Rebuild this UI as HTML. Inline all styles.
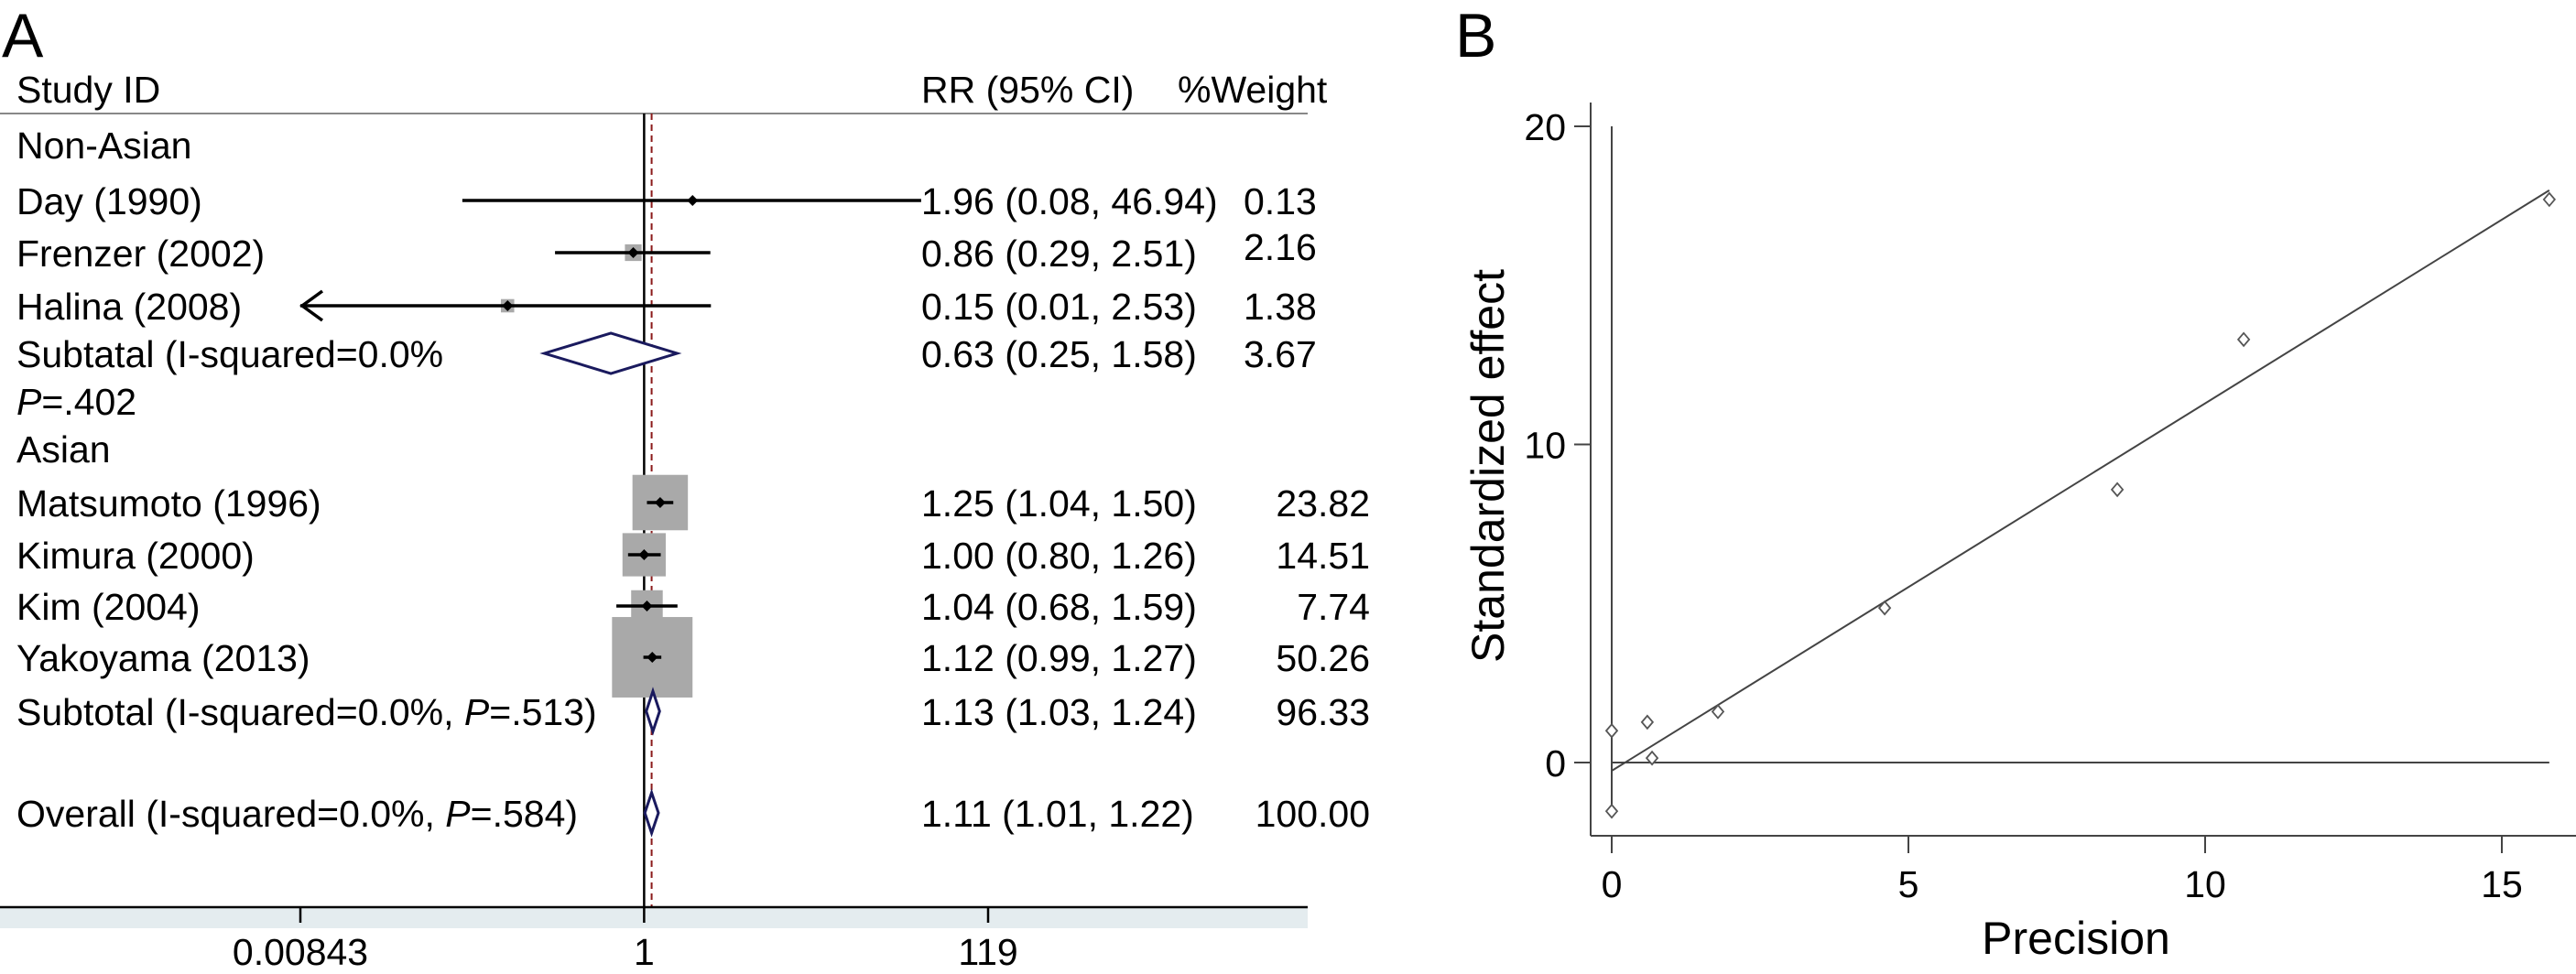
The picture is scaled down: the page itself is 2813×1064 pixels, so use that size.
<!DOCTYPE html>
<html><head><meta charset="utf-8"><style>
html,body{margin:0;padding:0;background:#fff;}
svg{display:block;font-family:"Liberation Sans",Arial,sans-serif;}
</style></head><body>
<svg id="fig" width="2813" height="1064" viewBox="0 0 2813 1064" xmlns="http://www.w3.org/2000/svg">
<g id="panelA">
<text x="2" y="62" font-size="68">A</text>
<text x="18" y="112" font-size="41">Study ID</text>
<text x="1006" y="112" font-size="41">RR (95% CI)</text>
<text x="1286" y="112" font-size="41">%Weight</text>
<line x1="0" y1="124" x2="1428" y2="124" stroke="#888" stroke-width="2"/>
<rect x="0" y="992" width="1428" height="22" fill="#e4ecef"/>
<g id="forestMarks"></g>
</g>
<g id="panelB">
<text x="1589" y="62" font-size="68">B</text>
<g id="galbMarks"></g>
<text x="2267" y="1042" font-size="50" text-anchor="middle">Precision</text>
<text transform="translate(1642,509) rotate(-90)" font-size="50" text-anchor="middle">Standardized effect</text>
</g>
</svg>
<script>
// ---- Panel A data ----
const rowLabels = ["Non-Asian","Day (1990)","Frenzer (2002)","Halina (2008)","Subtatal (I-squared=0.0%","P=.402","Asian","Matsumoto (1996)","Kimura (2000)","Kim (2004)","Yakoyama (2013)","Subtotal (I-squared=0.0%, P=.513)","Overall (I-squared=0.0%, P=.584)"];
const rowKinds = ["head","study","study","study","sub","note","head","study","study","study","study","sub","sub"];
const rr = [null,1.96,0.86,0.15,0.63,null,null,1.25,1.00,1.04,1.12,1.13,1.11];
const lo = [null,0.08,0.29,0.01,0.25,null,null,1.04,0.80,0.68,0.99,1.03,1.01];
const hi = [null,46.94,2.51,2.53,1.58,null,null,1.50,1.26,1.59,1.27,1.24,1.22];
const rrText = ["","1.96 (0.08, 46.94)","0.86 (0.29, 2.51)","0.15 (0.01, 2.53)","0.63 (0.25, 1.58)","","","1.25 (1.04, 1.50)","1.00 (0.80, 1.26)","1.04 (0.68, 1.59)","1.12 (0.99, 1.27)","1.13 (1.03, 1.24)","1.11 (1.01, 1.22)"];
const weights = [null,0.13,2.16,1.38,3.67,null,null,23.82,14.51,7.74,50.26,96.33,100.00];
const axisTicks = [0.00843,1,119];
const axisTickLabels = ["0.00843","1","119"];
const overallRR = 1.11;

// ---- Panel B data ----
const precision = [0,0,0.6,0.68,1.79,4.6,8.52,10.65,15.8];
const stdEffect = [1.0,-1.53,1.27,0.14,1.6,4.86,8.58,13.3,17.7];
const xTicks = [0,5,10,15];
const yTicks = [0,10,20];
const fitIntercept = -0.26;
const fitSlope = 1.155;
const fitRange = [0,15.8];

const NS="http://www.w3.org/2000/svg";
function mk(parent,tag,attrs,txt){const e=document.createElementNS(NS,tag);for(const k in attrs)e.setAttribute(k,attrs[k]);if(txt!=null)e.textContent=txt;parent.appendChild(e);return e;}

const rowYs=[158,219,276,334,386,438,490,549,606,662,718,777,888];
const xMin=Math.log(axisTicks[0]), xMax=Math.log(axisTicks[2]);
function fx(v){return 328+(Math.log(v)-xMin)/(xMax-xMin)*(1079-328);}
function clampX(v){return Math.max(328,Math.min(1079,fx(v)));}
const fm=document.getElementById('forestMarks');
const FS=41;

let l=mk(fm,'line',{x1:fx(1),y1:124,x2:fx(1),y2:991,stroke:'#000','stroke-width':2.5});


l=mk(fm,'line',{x1:fx(overallRR),y1:124,x2:fx(overallRR),y2:991,stroke:'#8b1a1a','stroke-width':2,'stroke-dasharray':'7,5'});


l=mk(fm,'line',{x1:0,y1:991,x2:1428,y2:991,stroke:'#000','stroke-width':2.5});


axisTicks.forEach((t,i)=>{
  const tk=mk(fm,'line',{x1:fx(t),y1:991,x2:fx(t),y2:1008,stroke:'#000','stroke-width':2.5});
  
  
  const tl=mk(fm,'text',{x:fx(t),y:1054,'font-size':FS,'text-anchor':'middle'},axisTickLabels[i]);
  
  
});

rowLabels.forEach((lab,i)=>{
  const y=rowYs[i];
  const by=y+15;
  let t;
  if(lab.startsWith('P=')){
    t=mk(fm,'text',{x:18,y:by,'font-size':FS});
    mk(t,'tspan',{'font-style':'italic'},'P');mk(t,'tspan',{},lab.slice(1));
  } else if(lab.indexOf(', P=')>0){
    const p=lab.indexOf(', P=');
    t=mk(fm,'text',{x:18,y:by,'font-size':FS});
    mk(t,'tspan',{},lab.slice(0,p+2));mk(t,'tspan',{'font-style':'italic'},'P');mk(t,'tspan',{},lab.slice(p+3));
  } else t=mk(fm,'text',{x:18,y:by,'font-size':FS},lab);
  
  
  if(rrText[i]){
    const r=mk(fm,'text',{x:1006,y:by,'font-size':FS},rrText[i]);
    
    
  }
  if(weights[i]!=null){
    const asian=i>=7;
    const w=mk(fm,'text',{x:asian?1496:1358,y:by-(i===2?7:0),'font-size':FS,'text-anchor':asian?'end':'start'},weights[i].toFixed(2));
    
    
  }
  if(rr[i]==null)return;
  if(rowKinds[i]==='study'){
    const s=12.4*Math.sqrt(weights[i]);
    const bx=mk(fm,'rect',{x:fx(rr[i])-s/2,y:y-s/2,width:s,height:s,fill:'#a9a9a9'});
    
    
    const trunc=fx(lo[i])<345;
    const x1=trunc?328:clampX(lo[i]),x2=clampX(hi[i]);
    const ci=mk(fm,'line',{x1:x1,y1:y,x2:x2,y2:y,stroke:'#000','stroke-width':3.5});
    
    
    if(trunc){
      const ar=mk(fm,'polyline',{points:`${x1+24},${y-16} ${x1+2},${y} ${x1+24},${y+16}`,fill:'none',stroke:'#000','stroke-width':3.5});
      
      
    }
    const px=fx(rr[i]);
    const pt=mk(fm,'polygon',{points:`${px-6},${y} ${px},${y-6} ${px+6},${y} ${px},${y+6}`,fill:'#000'});
    
    
  } else {
    const h=22;
    const d=mk(fm,'polygon',{points:`${fx(lo[i])},${y} ${fx(rr[i])},${y-h} ${fx(hi[i])},${y} ${fx(rr[i])},${y+h}`,fill:'#fff',stroke:'#1a1a5e','stroke-width':3});
    
    
  }
});

// Panel B
const gm=document.getElementById('galbMarks');
function gx(v){return 1760+v*64.8;}
function gy(v){return 833-v*34.75;}
l=mk(gm,'line',{x1:1737,y1:112,x2:1737,y2:913,stroke:'#444','stroke-width':2});


l=mk(gm,'line',{x1:1737,y1:913,x2:2813,y2:913,stroke:'#444','stroke-width':2});


xTicks.forEach(t=>{
  const a=mk(gm,'line',{x1:gx(t),y1:913,x2:gx(t),y2:932,stroke:'#444','stroke-width':2});
  
  
  const b=mk(gm,'text',{x:gx(t),y:980,'font-size':41,'text-anchor':'middle'},String(t));
  
  
});
yTicks.forEach(t=>{
  const a=mk(gm,'line',{x1:1719,y1:gy(t),x2:1737,y2:gy(t),stroke:'#444','stroke-width':2});
  
  
  const b=mk(gm,'text',{x:1710,y:gy(t)+15,'font-size':41,'text-anchor':'end'},String(t));
  
  
});
l=mk(gm,'line',{x1:gx(0),y1:gy(20),x2:gx(0),y2:gy(-1.53),stroke:'#444','stroke-width':2});


l=mk(gm,'line',{x1:gx(0),y1:gy(0),x2:gx(fitRange[1]),y2:gy(0),stroke:'#444','stroke-width':2});


l=mk(gm,'line',{x1:gx(fitRange[0]),y1:gy(fitIntercept+fitSlope*fitRange[0]),x2:gx(fitRange[1]),y2:gy(fitIntercept+fitSlope*fitRange[1]),stroke:'#444','stroke-width':2});


precision.forEach((p,i)=>{
  const cx=gx(p),cy=gy(stdEffect[i]);
  const m=mk(gm,'polygon',{points:`${cx-6},${cy} ${cx},${cy-7} ${cx+6},${cy} ${cx},${cy+7}`,fill:'#fff',stroke:'#555','stroke-width':1.8});
  
  
});
</script>
</body></html>
